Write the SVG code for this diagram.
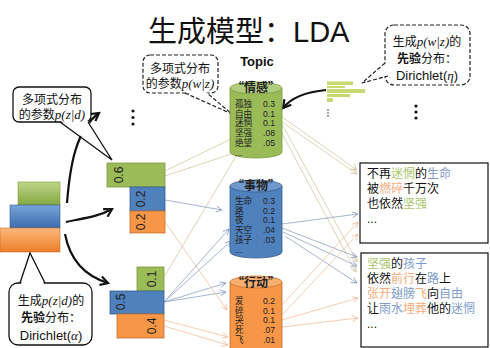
<svg xmlns="http://www.w3.org/2000/svg" width="490" height="348" viewBox="0 0 490 348">
<style>
.cjk{font-family:"Noto Sans CJK SC","Liberation Sans",sans-serif}
.lat{font-family:"Liberation Sans","Noto Sans CJK SC",sans-serif}
.it{font-family:"Liberation Serif","Noto Sans CJK SC",serif;font-style:italic}
.tan{stroke:#d6c69c;stroke-width:0.8;fill:none}
.blu{stroke:#8ea3c8;stroke-width:0.8;fill:none}
.pch{stroke:#f0c09c;stroke-width:0.8;fill:none}
.blk{stroke:#111;stroke-width:2.2;fill:none}
.bub{fill:#fff;stroke:#111;stroke-width:1.3}
.dash{fill:#fff;stroke:#222;stroke-width:1.2;stroke-dasharray:4 2}
.row{font-size:8.6px;fill:#222}
.lbl{font-size:12px;fill:#222}
.g{fill:#9bbb59;stroke:#7a9a3e;stroke-width:0.8}
.b{fill:#4f81bd;stroke:#385d8a;stroke-width:0.8}
.o{fill:#f79646;stroke:#c2702e;stroke-width:0.8}
.txt{font-size:12px;fill:#111}
.tg{fill:#a8c46a}.tb{fill:#7d9ccc}.to{fill:#f4ad7e}
</style>
<defs>
<marker id="ab" viewBox="0 0 10 10" refX="8" refY="5" markerWidth="5" markerHeight="5" orient="auto" markerUnits="strokeWidth"><path d="M1,1 L8,5 L1,9" fill="none" stroke="#111" stroke-width="2"/></marker>
<marker id="at" viewBox="0 0 10 10" refX="9" refY="5" markerWidth="9" markerHeight="9" orient="auto" markerUnits="strokeWidth"><path d="M1,1 L9,5 L1,9" fill="none" stroke="#d6c69c" stroke-width="1.2"/></marker>
<marker id="abl" viewBox="0 0 10 10" refX="9" refY="5" markerWidth="9" markerHeight="9" orient="auto" markerUnits="strokeWidth"><path d="M1,1 L9,5 L1,9" fill="none" stroke="#8ea3c8" stroke-width="1.2"/></marker>
<marker id="ap" viewBox="0 0 10 10" refX="9" refY="5" markerWidth="9" markerHeight="9" orient="auto" markerUnits="strokeWidth"><path d="M1,1 L9,5 L1,9" fill="none" stroke="#f0c09c" stroke-width="1.2"/></marker>
<linearGradient id="gg" x1="0" y1="0" x2="0" y2="1"><stop offset="0" stop-color="#bcd585"/><stop offset="1" stop-color="#86a843"/></linearGradient>
<linearGradient id="gb" x1="0" y1="0" x2="0" y2="1"><stop offset="0" stop-color="#78a3da"/><stop offset="1" stop-color="#3c6dad"/></linearGradient>
<linearGradient id="go" x1="0" y1="0" x2="0" y2="1"><stop offset="0" stop-color="#fdb87c"/><stop offset="1" stop-color="#ea7e28"/></linearGradient>
</defs>

<g id="title"><text x="148" y="42" class="cjk" font-size="29" fill="#111">生成模型：<tspan class="lat" font-size="29">LDA</tspan></text></g>
<g id="topic-label"><text x="257" y="66" class="lat" font-size="13" font-weight="bold" text-anchor="middle" fill="#111">Topic</text></g>

<g id="connectors">
<path class="blk" d="M67,203 C70,165 76,130 99,113" marker-end="url(#ab)"/>
<path class="blk" d="M66,222 C85,218 100,216 112,209" marker-end="url(#ab)"/>
<path class="blk" d="M65,234 C70,260 85,276 108,283" marker-end="url(#ab)"/>
<path class="blk" d="M326,90 C305,92 291,98 283,108" marker-end="url(#ab)"/>
<line class="tan" x1="165" y1="171" x2="231" y2="139"/>
<line class="tan" x1="165" y1="176" x2="234" y2="153"/>
<line class="tan" x1="164" y1="277" x2="238" y2="153"/>
<line class="tan" x1="282" y1="117" x2="357" y2="170" marker-end="url(#at)"/>
<line class="tan" x1="282" y1="122" x2="357" y2="174" marker-end="url(#at)"/>
<line class="tan" x1="282" y1="124" x2="357" y2="262" marker-end="url(#at)"/>
<line class="tan" x1="280" y1="130" x2="356" y2="272" marker-end="url(#at)"/>
<line class="blu" x1="165" y1="200" x2="222" y2="210" marker-end="url(#abl)"/>
<line class="blu" x1="164" y1="302" x2="229" y2="229" marker-end="url(#abl)"/>
<line class="blu" x1="164" y1="302" x2="231" y2="241" marker-end="url(#abl)"/>
<line class="blu" x1="164" y1="302" x2="226" y2="283" marker-end="url(#abl)"/>
<line class="blu" x1="164" y1="302" x2="226" y2="292" marker-end="url(#abl)"/>
<line class="blu" x1="282" y1="224" x2="358" y2="214" marker-end="url(#abl)"/>
<line class="blu" x1="282" y1="228" x2="357" y2="257" marker-end="url(#abl)"/>
<line class="blu" x1="283" y1="232" x2="357" y2="266" marker-end="url(#abl)"/>
<line class="blu" x1="285" y1="236" x2="357" y2="283" marker-end="url(#abl)"/>
<line class="pch" x1="165" y1="222" x2="227" y2="310" marker-end="url(#ap)"/>
<line class="pch" x1="164" y1="320" x2="228" y2="337" marker-end="url(#ap)"/>
<line class="pch" x1="164" y1="326" x2="228" y2="345" marker-end="url(#ap)"/>
<line class="pch" x1="282" y1="305" x2="358" y2="222" marker-end="url(#ap)"/>
<line class="pch" x1="282" y1="315" x2="358" y2="234" marker-end="url(#ap)"/>
<line class="pch" x1="282" y1="320" x2="358" y2="298" marker-end="url(#ap)"/>
<line class="pch" x1="282" y1="327" x2="358" y2="318" marker-end="url(#ap)"/>
</g>

<g id="stack">
<rect x="18" y="182" width="42" height="23" fill="url(#gg)" stroke="#7a9a3e" stroke-width="0.6"/>
<rect x="10" y="205" width="50" height="23" fill="url(#gb)" stroke="#385d8a" stroke-width="0.6"/>
<rect x="0" y="228" width="60" height="24" fill="url(#go)" stroke="#c2702e" stroke-width="0.6"/>
</g>

<g id="callout-pzd">
<rect class="bub" x="13" y="87" width="78" height="35" rx="6"/>
<polygon points="61,121 88,121 112,160" fill="#fff"/>
<polyline points="60,122 112,160 88,122" fill="none" stroke="#111" stroke-width="1.3"/>
<text class="lat" font-size="12" text-anchor="middle" fill="#111"><tspan x="52" y="104">多项式分布</tspan><tspan x="52" dy="15">的参数<tspan class="it" font-size="13">p(z|d)</tspan></tspan></text>
</g>

<g id="callout-alpha">
<rect class="bub" x="9" y="283" width="83" height="62" rx="9"/>
<polygon points="21,284 44,284 30,253" fill="#fff"/>
<polyline points="20,283 30,253 45,283" fill="none" stroke="#111" stroke-width="1.3"/>
<text class="lat" font-size="12" text-anchor="middle" fill="#111"><tspan x="51" y="305">生成<tspan class="it" font-size="13">p(z|d)</tspan>的</tspan><tspan x="51" dy="17"><tspan font-weight="bold">先验</tspan>分布：</tspan><tspan x="51" dy="18" font-size="13">Dirichlet(<tspan class="it">α</tspan>)</tspan></text>
</g>

<g id="callout-pwz">
<rect class="dash" x="143" y="55" width="75" height="38" rx="7"/>
<polygon points="186,92 206,92 232,114" fill="#fff"/>
<polyline points="185,93 232,114 207,93" fill="none" stroke="#222" stroke-width="1.2" stroke-dasharray="4 2"/>
<text class="lat" font-size="12" text-anchor="middle" fill="#111"><tspan x="180" y="73">多项式分布</tspan><tspan x="180" dy="15">的参数<tspan class="it" font-size="13">p(w|z)</tspan></tspan></text>
</g>

<g id="callout-eta">
<rect class="dash" x="385" y="25" width="85" height="60" rx="9"/>
<polygon points="386,63 387,76 362,83" fill="#fff"/>
<polyline points="385,63 362,83 388,76" fill="none" stroke="#222" stroke-width="1.2" stroke-dasharray="4 2"/>
<text class="lat" font-size="12" text-anchor="middle" fill="#111"><tspan x="427" y="46">生成<tspan class="it" font-size="13">p(w|z)</tspan>的</tspan><tspan x="427" dy="17"><tspan font-weight="bold">先验</tspan>分布：</tspan><tspan x="427" dy="17" font-size="13">Dirichlet(<tspan class="it">η</tspan>)</tspan></text>
</g>

<g id="eta-bars" fill="#c9d96f">
<rect x="327" y="81.5" width="26" height="3.5"/>
<rect x="327" y="86" width="18" height="2"/>
<rect x="327" y="89" width="38" height="4"/>
<rect x="327" y="94" width="23" height="3"/>
<rect x="327" y="98" width="6" height="4"/>
</g>

<g id="dots" fill="#111">
<circle cx="133" cy="111" r="1.6"/><circle cx="133" cy="117.5" r="1.6"/><circle cx="133" cy="124" r="1.6"/>
<circle cx="416" cy="106" r="1.6"/><circle cx="416" cy="112" r="1.6"/><circle cx="416" cy="118" r="1.6"/>
<circle cx="328" cy="110" r="0.7"/><circle cx="328" cy="113" r="0.7"/><circle cx="328" cy="116" r="0.7"/>
</g>

<g id="doc1">
<rect class="g" x="107" y="163" width="58" height="24"/>
<rect class="b" x="130" y="187" width="35" height="24"/>
<rect class="o" x="130" y="211" width="35" height="22"/>
<text class="lat lbl" transform="translate(119,175) rotate(-90)" text-anchor="middle" dominant-baseline="central">0.6</text>
<text class="lat lbl" transform="translate(141,199) rotate(-90)" text-anchor="middle" dominant-baseline="central">0.2</text>
<text class="lat lbl" transform="translate(141,222) rotate(-90)" text-anchor="middle" dominant-baseline="central">0.2</text>
</g>

<g id="doc2">
<rect class="g" x="137" y="267" width="27" height="24"/>
<rect class="b" x="110" y="291" width="54" height="23"/>
<rect class="o" x="117" y="314" width="47" height="24"/>
<text class="lat lbl" transform="translate(152,279) rotate(-90)" text-anchor="middle" dominant-baseline="central">0.1</text>
<text class="lat lbl" transform="translate(121,302) rotate(-90)" text-anchor="middle" dominant-baseline="central">0.5</text>
<text class="lat lbl" transform="translate(152,326) rotate(-90)" text-anchor="middle" dominant-baseline="central">0.4</text>
</g>

<g id="topic-emotion">
<path class="g" d="M230,88 L230,152 A26,6 0 0 0 282,152 L282,88 Z"/>
<ellipse cx="256" cy="88" rx="26" ry="6" fill="#b3cd80" stroke="#7a9a3e" stroke-width="0.8"/>
<text class="cjk" x="256" y="92" font-size="12" font-weight="bold" text-anchor="middle" fill="#222">“情感”</text>
<text class="lat row"><tspan x="235" y="107">孤独</tspan><tspan x="235" dy="9.7">自由</tspan><tspan x="235" dy="9.7">迷惘</tspan><tspan x="235" dy="9.7">坚强</tspan><tspan x="235" dy="9.7">绝望</tspan><tspan x="235" dy="9.7">...</tspan></text>
<text class="lat row" text-anchor="end"><tspan x="275" y="107">0.3</tspan><tspan x="275" dy="9.7">0.1</tspan><tspan x="275" dy="9.7">0.1</tspan><tspan x="275" dy="9.7">.08</tspan><tspan x="275" dy="9.7">.05</tspan></text>
</g>

<g id="topic-thing">
<path class="b" d="M230,186 L230,252 A26,6 0 0 0 282,252 L282,186 Z"/>
<ellipse cx="256" cy="186" rx="26" ry="6" fill="#6f98cc" stroke="#385d8a" stroke-width="0.8"/>
<text class="cjk" x="256" y="190" font-size="12" font-weight="bold" text-anchor="middle" fill="#222">“事物”</text>
<text class="lat row"><tspan x="235" y="204">生命</tspan><tspan x="235" dy="9.7">路</tspan><tspan x="235" dy="9.7">夜</tspan><tspan x="235" dy="9.7">天空</tspan><tspan x="235" dy="9.7">孩子</tspan><tspan x="235" dy="9.7">...</tspan></text>
<text class="lat row" text-anchor="end"><tspan x="275" y="204">0.3</tspan><tspan x="275" dy="9.7">0.2</tspan><tspan x="275" dy="9.7">0.1</tspan><tspan x="275" dy="9.7">.04</tspan><tspan x="275" dy="9.7">.03</tspan></text>
</g>

<g id="topic-action">
<path class="o" d="M230,282 L230,356 A26,6 0 0 0 282,356 L282,282 Z"/>
<ellipse cx="256" cy="282" rx="26" ry="6" fill="#f9ae70" stroke="#c2702e" stroke-width="0.8"/>
<text class="cjk" x="256" y="287" font-size="12" font-weight="bold" text-anchor="middle" fill="#222">“行动”</text>
<text class="lat row"><tspan x="235" y="304">爱</tspan><tspan x="235" dy="9.7">碎</tspan><tspan x="235" dy="9.7">哭</tspan><tspan x="235" dy="9.7">死</tspan><tspan x="235" dy="9.7">飞</tspan></text>
<text class="lat row" text-anchor="end"><tspan x="275" y="304">0.2</tspan><tspan x="275" dy="9.7">0.1</tspan><tspan x="275" dy="9.7">0.1</tspan><tspan x="275" dy="9.7">.07</tspan><tspan x="275" dy="9.7">.01</tspan></text>
</g>

<g id="doc-text-1">
<rect x="360" y="163" width="128" height="80" fill="#fff" stroke="#111" stroke-width="1.2"/>
<text class="lat txt"><tspan x="367" y="178">不再<tspan class="tg">迷惘</tspan>的<tspan class="tb">生命</tspan></tspan><tspan x="367" dy="15">被<tspan class="to">燃碎</tspan>千万次</tspan><tspan x="367" dy="15">也依然<tspan class="tg">坚强</tspan></tspan><tspan x="367" dy="15">...</tspan></text>
</g>

<g id="doc-text-2">
<rect x="361" y="253" width="127" height="94" fill="#fff" stroke="#111" stroke-width="1.2"/>
<text class="lat txt"><tspan x="367" y="268"><tspan class="tg">坚强</tspan>的<tspan class="tb">孩子</tspan></tspan><tspan x="367" dy="15">依然<tspan class="to">前行</tspan>在<tspan class="tb">路</tspan>上</tspan><tspan x="367" dy="15"><tspan class="to">张开</tspan><tspan class="tb">翅膀</tspan><tspan class="to">飞</tspan>向<tspan class="tb">自由</tspan></tspan><tspan x="367" dy="15">让<tspan class="tb">雨水</tspan><tspan class="to">埋葬</tspan>他的<tspan class="tb">迷惘</tspan></tspan><tspan x="367" dy="15">...</tspan></text>
</g>
</svg>
